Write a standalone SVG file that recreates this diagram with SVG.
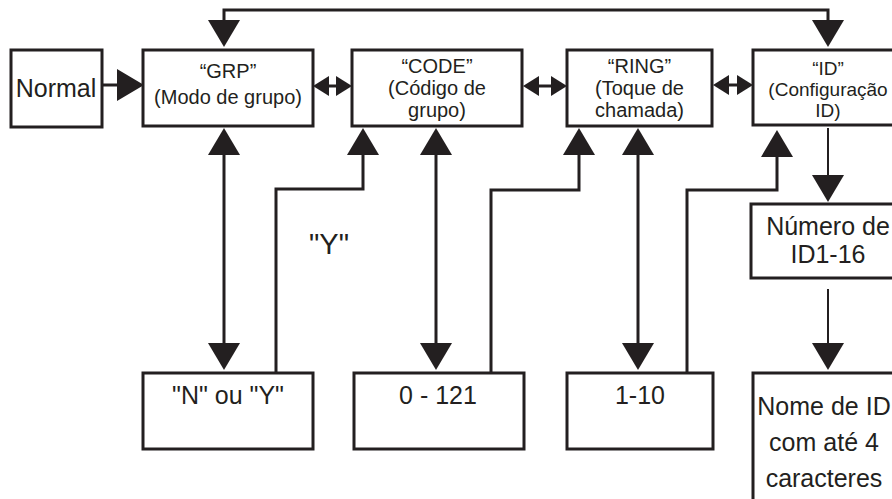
<svg xmlns="http://www.w3.org/2000/svg" width="892" height="499" viewBox="0 0 892 499">
<style>
.box{fill:#fff;stroke:#231f20;stroke-width:3}
.ln{fill:none;stroke:#231f20;stroke-width:3}
.thin{fill:none;stroke:#231f20;stroke-width:2}
text{font-family:"Liberation Sans",Arial,sans-serif;fill:#231f20;text-anchor:middle}
.t20{font-size:20px}
.t19{font-size:19px}
.t24{font-size:25px}
</style>
<defs>
<marker id="ah" viewBox="0 0 27 32" refX="0" refY="16" markerWidth="27" markerHeight="32" markerUnits="userSpaceOnUse" orient="auto-start-reverse">
<path d="M0,0 L27,16 L0,32 z" fill="#231f20"/>
</marker>
<marker id="sm" viewBox="0 0 16 20" refX="0" refY="10" markerWidth="16" markerHeight="20" markerUnits="userSpaceOnUse" orient="auto-start-reverse">
<path d="M0,0 L16,10 L0,20 z" fill="#231f20"/>
</marker>
</defs>
<g id="connectors">
<path class="ln" d="M224,20 L224,10 L828,10 L828,20" marker-start="url(#ah)" marker-end="url(#ah)"/>
<path class="ln" d="M103,85 L117,85" marker-end="url(#ah)"/>
<path class="ln" d="M329,86 L336,86" marker-start="url(#sm)" marker-end="url(#sm)"/>
<path class="ln" d="M539,86 L551,86" marker-start="url(#sm)" marker-end="url(#sm)"/>
<path class="ln" d="M729,85 L737,85" marker-start="url(#sm)" marker-end="url(#sm)"/>
<path class="ln" d="M224,155 L224,343" marker-start="url(#ah)" marker-end="url(#ah)"/>
<path class="ln" d="M436,155 L436,343" marker-start="url(#ah)" marker-end="url(#ah)"/>
<path class="ln" d="M638,155 L638,343" marker-start="url(#ah)" marker-end="url(#ah)"/>
<path class="ln" d="M276,373 L276,189 L363,189 L363,155" marker-end="url(#ah)"/>
<path class="ln" d="M491,373 L491,190 L579,190 L579,155" marker-end="url(#ah)"/>
<path class="ln" d="M687,373 L687,190 L777,190 L777,157" marker-end="url(#ah)"/>
<path class="thin" d="M828,128 L828,175" marker-end="url(#ah)"/>
<path class="thin" d="M828,289 L828,343" marker-end="url(#ah)"/>
<text x="329" y="254" style="font-size:29px">"Y"</text>
</g>
<g id="normal">
<rect class="box" x="11" y="50" width="91" height="77"/>
<text class="t24" x="56" y="97">Normal</text>
</g>
<g id="grp">
<rect class="box" x="143" y="50" width="170" height="76"/>
<text class="t20" x="228" y="78">“GRP”</text>
<text class="t20" x="228" y="104">(Modo de grupo)</text>
</g>
<g id="code">
<rect class="box" x="352" y="50" width="170" height="76"/>
<text class="t20" x="437" y="73">“CODE”</text>
<text class="t20" x="437" y="95">(Código de</text>
<text class="t20" x="437" y="117">grupo)</text>
</g>
<g id="ring">
<rect class="box" x="567" y="50" width="145" height="76"/>
<text class="t20" x="639.5" y="73">“RING”</text>
<text class="t20" x="639.5" y="95">(Toque de</text>
<text class="t20" x="639.5" y="117">chamada)</text>
</g>
<g id="id">
<rect class="box" x="753" y="50" width="152" height="75"/>
<text class="t19" x="828" y="75">“ID”</text>
<text class="t19" x="828" y="96">(Configuração</text>
<text class="t19" x="828" y="117">ID)</text>
</g>
<g id="numero">
<rect class="box" x="751" y="204" width="155" height="74"/>
<text class="t24" x="828" y="235">Número de</text>
<text class="t24" x="828" y="263">ID1-16</text>
</g>
<g id="ny">
<rect class="box" x="143" y="373" width="170" height="76"/>
<text class="t24" x="228" y="404">"N" ou "Y"</text>
</g>
<g id="range121">
<rect class="box" x="354" y="373" width="170" height="76"/>
<text class="t24" x="438" y="404">0 - 121</text>
</g>
<g id="range10">
<rect class="box" x="567" y="373" width="146" height="76"/>
<text class="t24" x="640" y="404">1-10</text>
</g>
<g id="nome">
<rect class="box" x="753" y="373" width="155" height="140"/>
<text class="t24" x="824" y="415">Nome de ID</text>
<text class="t24" x="824" y="451">com até 4</text>
<text class="t24" x="824" y="487">caracteres</text>
</g>
</svg>
